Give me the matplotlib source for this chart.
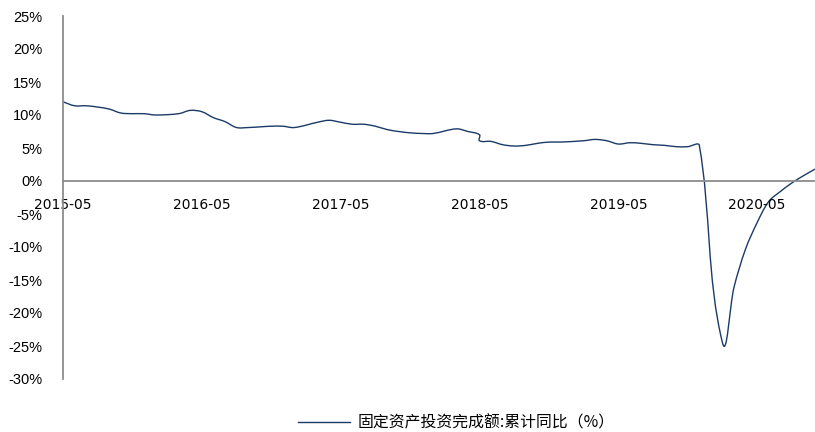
import numpy as np
import pandas as pd
import matplotlib
matplotlib.use("Agg")
import matplotlib.pyplot as plt
from matplotlib.path import Path
from matplotlib.patches import PathPatch
from matplotlib.lines import Line2D

# 固定资产投资完成额:累计同比(%)
dates = ["2015-05", "2015-06", "2015-07", "2015-08", "2015-09", "2015-10", "2015-11", "2015-12",
         "2016-01", "2016-03", "2016-04", "2016-05", "2016-06", "2016-07", "2016-08", "2016-09",
         "2016-10", "2016-11", "2016-12", "2017-01", "2017-03", "2017-04", "2017-05", "2017-06",
         "2017-07", "2017-08", "2017-09", "2017-10", "2017-11", "2017-12", "2018-01", "2018-03",
         "2018-04", "2018-05",
         "2018-05", "2018-06", "2018-07", "2018-08", "2018-09", "2018-10", "2018-11", "2018-12",
         "2019-02", "2019-03", "2019-04", "2019-05", "2019-06", "2019-07", "2019-08", "2019-09",
         "2019-10", "2019-11", "2019-12", "2020-02", "2020-03", "2020-04", "2020-05", "2020-06",
         "2020-07", "2020-08", "2020-09", "2020-10"]
values = [12.0, 11.4, 11.4, 11.2, 10.9, 10.3, 10.2, 10.2,
          10.0, 10.2, 10.7, 10.5, 9.6, 9.0, 8.1, 8.1,
          8.2, 8.3, 8.3, 8.1, 8.9, 9.2, 8.9, 8.6,
          8.6, 8.3, 7.8, 7.5, 7.3, 7.2, 7.2, 7.9,
          7.5, 7.0,
          6.1, 6.0, 5.5, 5.3, 5.4, 5.7, 5.9, 5.9,
          6.1, 6.3, 6.1, 5.6, 5.8, 5.7, 5.5, 5.4,
          5.2, 5.2, 5.4, -24.5, -16.1, -10.3, -6.3, -3.1,
          -1.6, -0.3, 0.8, 1.8]

tick_labels = ["2015-05", "2016-05", "2017-05", "2018-05", "2019-05", "2020-05"]
y_ticks = [25, 20, 15, 10, 5, 0, -5, -10, -15, -20, -25, -30]
series_name = "固定资产投资完成额:累计同比（%）"

start = pd.Period("2015-05", freq="M")
x = np.array([(pd.Period(d, freq="M") - start).n for d in dates], dtype=float)
y = np.array(values)

# 平滑折线：在屏幕比例下算切线方向，手柄长度取本段长度的 1/3
sx, sy = 11.57, 6.6          # 每月 / 每个百分点 约多少像素
P = np.column_stack([x * sx, y * sy])
n = len(P)
tang = np.zeros_like(P)
for i in range(n):
    a = P[max(i - 1, 0)]
    b = P[min(i + 1, n - 1)]
    d = b - a
    L = np.hypot(*d)
    tang[i] = d / L if L > 0 else 0

verts = [(x[0], y[0])]
codes = [Path.MOVETO]
for i in range(n - 1):
    seg = np.hypot(*(P[i + 1] - P[i]))
    c1 = P[i] + tang[i] * seg / 3.0
    c2 = P[i + 1] - tang[i + 1] * seg / 3.0
    for c in (c1, c2, P[i + 1]):
        verts.append((c[0] / sx, c[1] / sy))
    codes += [Path.CURVE4] * 3

line_color = "#1B3A68"
axis_color = "#8C8C8C"

fig = plt.figure(figsize=(8.15, 4.32), dpi=100)
ax = fig.add_axes([63 / 815, 1 - 379 / 432, 752 / 815, 363 / 432])

ax.add_patch(PathPatch(Path(verts, codes), facecolor="none", edgecolor=line_color, lw=1.0))

ax.set_xlim(0, 65)
ax.set_ylim(-30, 25)

ax.set_yticks(y_ticks)
ax.set_yticklabels([f"{v}%" for v in y_ticks], fontfamily="Liberation Sans", fontsize=10.5)
xt = [(pd.Period(t, freq="M") - start).n for t in tick_labels]
ax.set_xticks(xt)
ax.set_xticklabels(tick_labels, fontfamily="Liberation Sans", fontsize=10.5)
ax.tick_params(axis="both", length=0)
ax.tick_params(axis="y", pad=15)
ax.tick_params(axis="x", pad=12)

for s in ["top", "right"]:
    ax.spines[s].set_visible(False)
ax.spines["left"].set_color(axis_color)
ax.spines["left"].set_linewidth(1.3)
ax.spines["bottom"].set_position(("data", 0))
ax.spines["bottom"].set_color(axis_color)
ax.spines["bottom"].set_linewidth(1.3)

handle = Line2D([], [], color=line_color, lw=1.0)
fig.legend([handle], [series_name], loc="center", bbox_to_anchor=(456 / 815, 1 - 423 / 432),
           frameon=False, handlelength=3.3, handletextpad=0.45,
           prop={"family": ["Noto Sans CJK SC", "DejaVu Sans"], "size": 11.4})

fig.savefig("out.png", dpi=100)
